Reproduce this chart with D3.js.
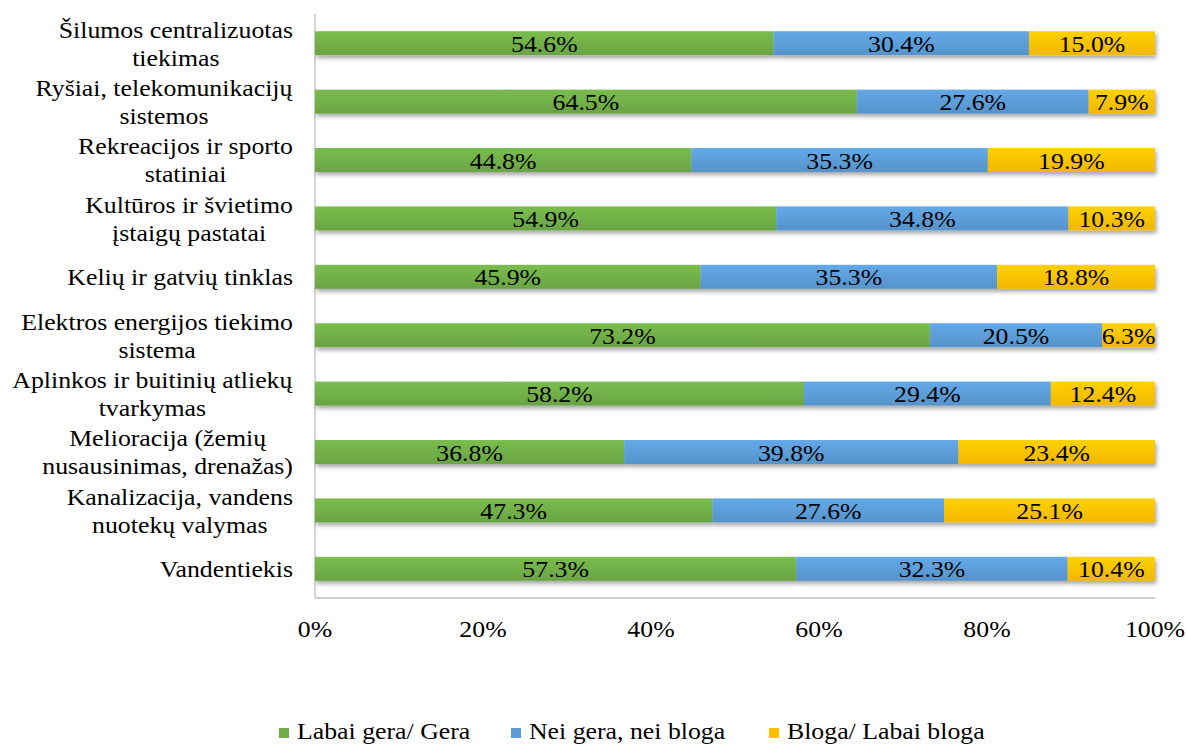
<!DOCTYPE html>
<html>
<head>
<meta charset="utf-8">
<script src="https://cdn.jsdelivr.net/npm/d3@7"></script>
<style>
  body { margin: 0; background: #fff; }
</style>
</head>
<body>
<div id="chart"></div>
<script>
// categories top to bottom, each may wrap onto 2 lines
var categories = [
  ["Šilumos centralizuotas", "tiekimas"],
  ["Ryšiai, telekomunikacijų", "sistemos"],
  ["Rekreacijos ir sporto", "statiniai"],
  ["Kultūros ir švietimo", "įstaigų pastatai"],
  ["Kelių ir gatvių tinklas"],
  ["Elektros energijos tiekimo", "sistema"],
  ["Aplinkos ir buitinių atliekų", "tvarkymas"],
  ["Melioracija (žemių", "nusausinimas, drenažas)"],
  ["Kanalizacija, vandens", "nuotekų valymas"],
  ["Vandentiekis"]
];
var good    = [54.6, 64.5, 44.8, 54.9, 45.9, 73.2, 58.2, 36.8, 47.3, 57.3];
var neutral = [30.4, 27.6, 35.3, 34.8, 35.3, 20.5, 29.4, 39.8, 27.6, 32.3];
var bad     = [15.0,  7.9, 19.9, 10.3, 18.8,  6.3, 12.4, 23.4, 25.1, 10.4];
var seriesNames = ["Labai gera/ Gera", "Nei gera, nei bloga", "Bloga/ Labai bloga"];
var seriesColors = ["#70AD47", "#5B9BD5", "#FFC000"];
var tickValues = [0, 20, 40, 60, 80, 100];

var width = 1187, height = 745;
var plotLeft = 315, plotRight = 1155, plotTop = 14, plotBottom = 598;
var fs = 24;
var sx = 1.075; // text in the source is a little wide
var ff = "'Liberation Serif'";

var svg = d3.select("#chart").append("svg")
  .attr("width", width).attr("height", height);

var defs = svg.append("defs");
var shadow = defs.append("filter").attr("id", "shadow")
  .attr("x", "-5%").attr("y", "-30%").attr("width", "110%").attr("height", "180%");
shadow.append("feDropShadow")
  .attr("dx", 1.5).attr("dy", 3).attr("stdDeviation", 2)
  .attr("flood-color", "#000").attr("flood-opacity", 0.35);

seriesColors.forEach(function(c, i) {
  var g = defs.append("linearGradient").attr("id", "grad" + i)
    .attr("x1", 0).attr("y1", 0).attr("x2", 0).attr("y2", 1);
  g.append("stop").attr("offset", "0%").attr("stop-color", d3.color(c).brighter(0.25));
  g.append("stop").attr("offset", "100%").attr("stop-color", d3.color(c).darker(0.15));
});

// put a text at (px,py) stretched horizontally a bit
function place(sel, px, py) {
  sel.attr("x", 0).attr("y", 0)
    .attr("transform", function(d, i) {
      var a = typeof px === "function" ? px(d, i) : px;
      var b = typeof py === "function" ? py(d, i) : py;
      return "translate(" + a + "," + b + ") scale(" + sx + ",1)";
    })
    .attr("font-family", ff).attr("font-size", fs).attr("fill", "#000");
}

var x = d3.scaleLinear().domain([0, 100]).range([plotLeft, plotRight]);
var y = d3.scaleBand().domain(d3.range(categories.length))
  .range([plotTop, plotBottom]).paddingInner(0.59).paddingOuter(0.295);

var rows = categories.map(function(c, i) {
  return {i: i, vals: [good[i], neutral[i], bad[i]]};
});

// axes lines
svg.append("line").attr("x1", plotLeft).attr("x2", plotLeft).attr("y1", plotTop).attr("y2", plotBottom)
  .attr("stroke", "#BFBFBF").attr("stroke-width", 1.3);
svg.append("line").attr("x1", plotLeft).attr("x2", plotRight).attr("y1", plotBottom).attr("y2", plotBottom)
  .attr("stroke", "#BFBFBF").attr("stroke-width", 1.3);

// bars
var rowG = svg.append("g").selectAll("g").data(rows).enter().append("g");
rowG.each(function(d) {
  var g = d3.select(this);
  var cum = 0;
  var segs = d.vals.map(function(v, k) {
    var s = {k: k, v: v, x0: cum, x1: cum + v};
    cum += v;
    return s;
  });
  var bg = g.append("g").attr("filter", "url(#shadow)");
  bg.selectAll("rect").data(segs).enter().append("rect")
    .attr("x", function(s) { return x(s.x0); })
    .attr("width", function(s) { return x(s.x1) - x(s.x0); })
    .attr("y", y(d.i))
    .attr("height", y.bandwidth())
    .attr("fill", function(s) { return "url(#grad" + s.k + ")"; });
  g.selectAll("text.val").data(segs).enter().append("text")
    .attr("class", "val")
    .attr("text-anchor", "middle")
    .call(place, function(s) { return (x(s.x0) + x(s.x1)) / 2; },
                 y(d.i) + y.bandwidth() / 2 + 8.5)
    .text(function(s) { return d3.format(".1f")(s.v) + "%"; });
});

// category labels, lines centred in a block whose right edge is fixed
var labG = svg.append("g");
categories.forEach(function(lines, i) {
  var cy = y(i) + y.bandwidth() / 2;
  var lh = 28;
  var t = labG.append("text").attr("font-family", ff).attr("font-size", fs)
    .attr("text-anchor", "middle");
  lines.forEach(function(l, j) {
    t.append("tspan").attr("x", 0)
      .attr("y", cy + (j - (lines.length - 1) / 2) * lh + 8.5)
      .text(l);
  });
  var w = t.node().getBBox().width * sx;
  t.attr("transform", "translate(" + (293 - w / 2) + ",0) scale(" + sx + ",1)");
});

// x tick labels
svg.append("g").selectAll("text").data(tickValues).enter().append("text")
  .attr("text-anchor", "middle")
  .call(place, function(d) { return x(d); }, 637)
  .text(function(d) { return d + "%"; });

// legend
var legX = [279, 511, 769];
var leg = svg.append("g").selectAll("g").data(seriesNames).enter().append("g")
  .attr("transform", function(d, i) { return "translate(" + legX[i] + ",0)"; });
leg.append("rect").attr("x", 0).attr("y", 728).attr("width", 10).attr("height", 10)
  .attr("fill", function(d, i) { return seriesColors[i]; });
leg.append("text")
  .call(place, 18, 739)
  .text(function(d) { return d; });
</script>
</body>
</html>
